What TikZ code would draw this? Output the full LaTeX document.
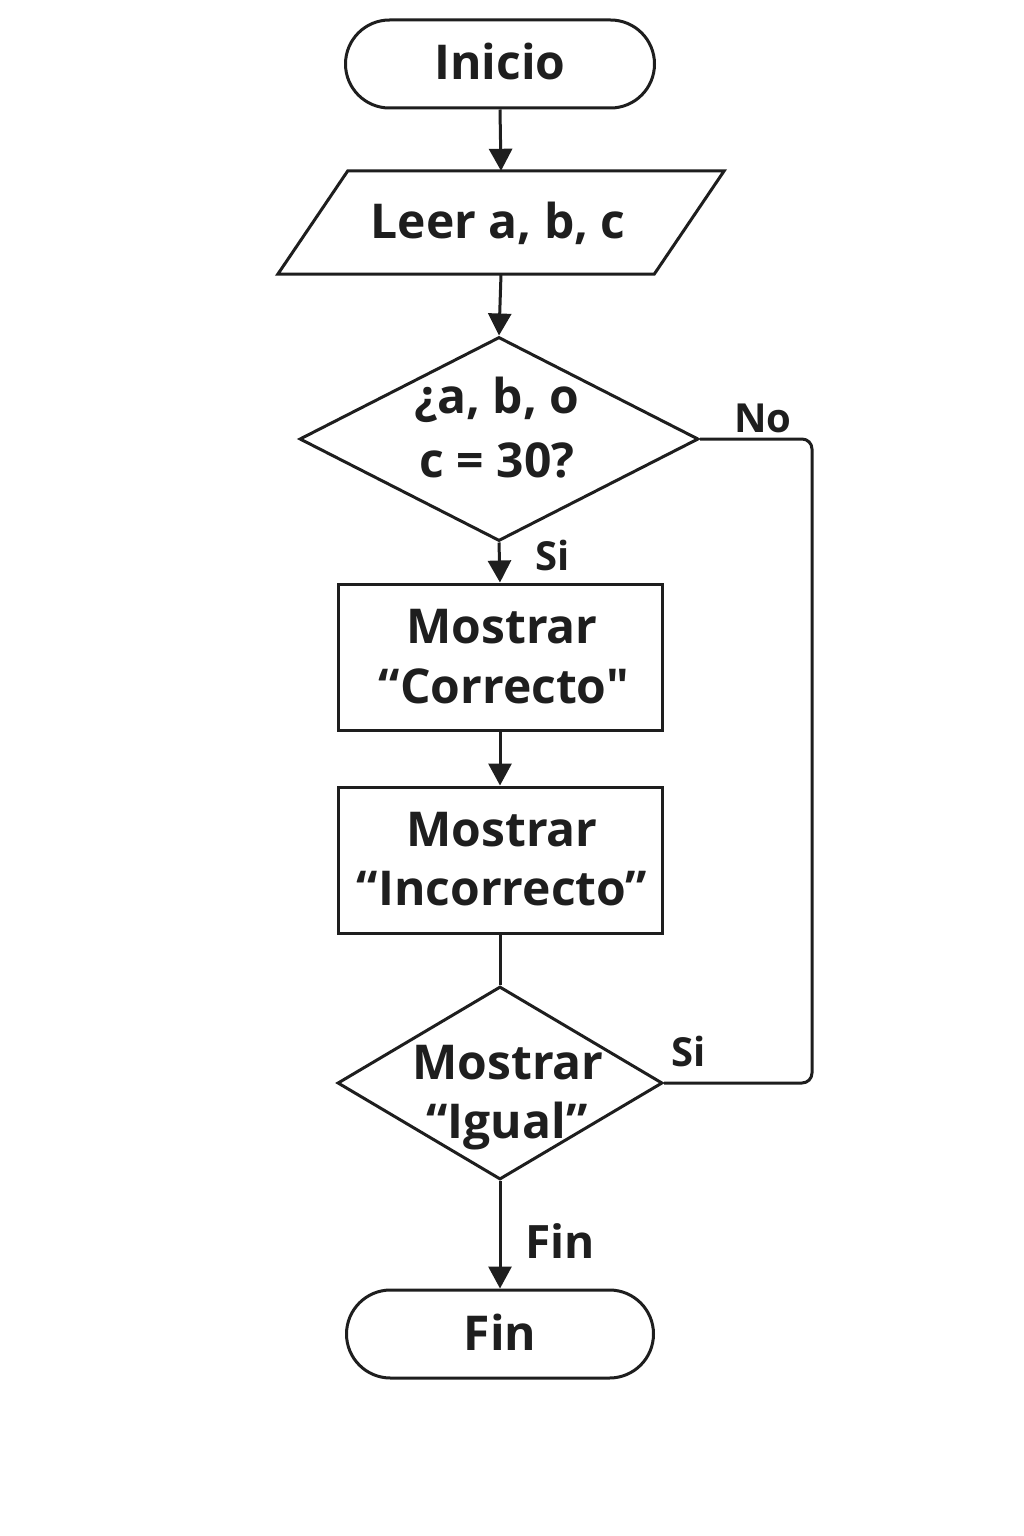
\documentclass[tikz,border=0pt]{standalone}
\usepackage{fontspec}
\setmainfont{Open Sans}[Ligatures=TeXOff]
\usetikzlibrary{arrows.meta,shapes.geometric,shapes.misc,calc}
\definecolor{ink}{HTML}{1E1E1E}
\begin{document}
\begin{tikzpicture}[x=1pt,y=-1pt,
  line/.style={draw=ink, line width=3pt},
  arr/.style={line, -{Triangle[width=23pt,length=22pt]}},
  term/.style={rounded rectangle, draw=ink, line width=3pt, minimum width=309pt, minimum height=88pt, inner sep=0pt},
  proc/.style={rectangle, draw=ink, line width=3pt, minimum width=324pt, minimum height=146pt, inner sep=0pt},
  dia/.style={diamond, draw=ink, line width=3pt, inner sep=0pt},
  txt/.style={font=\bfseries\fontsize{48}{58}\selectfont, text=ink, anchor=base, inner sep=0pt},
  lab/.style={font=\bfseries\fontsize{40}{48}\selectfont, text=ink, anchor=base, inner sep=0pt}]
\fill[white] (0,0) rectangle (1024,1536);
\useasboundingbox (0,0) rectangle (1024,1536);

% shapes
\node[term] (inicio) at (500,64) {};
\node[minimum width=446pt, minimum height=103pt, inner sep=0pt] (leer) at (501,222.5) {};
\draw[line] (leer.south west) -- ($(leer.north west)+(70,0)$) -- (leer.north east) -- ($(leer.south east)-(70,0)$) -- cycle;
\node[dia, minimum width=399pt, minimum height=204pt] (d1) at (499,439) {};
\node[proc] (r1) at (500,657) {};
\node[proc] (r2) at (500,860) {};
\node[dia, minimum width=325pt, minimum height=193pt] (d2) at (500,1083) {};
\node[term, minimum width=307pt] (fin) at (500,1334) {};

% texts
\node[txt] (tInicio) at (500,80) {Inicio};
\node[txt] (tLeer) at (498,238) {Leer a, b, c};
\node[txt] (tD1a) at (497,413) {¿a, b, o};
\node[txt] (tD1b) at (497,477) {c = 30?};
\node[txt] (tR1a) at (502,643) {Mostrar};
\node[txt] (tR1b) at (504,703) {“Correcto{\XeTeXglyph\XeTeXglyphindex "quotedbl"\relax}};
\node[txt] (tR2a) at (502,846) {Mostrar};
\node[txt] (tR2b) at (502,905) {“Incorrecto”};
\node[txt] (tD2a) at (508,1079) {Mostrar};
\node[txt] (tD2b) at (507,1138) {“Igual”};
\node[txt] (tFin) at (500,1350) {Fin};

% labels
\node[lab] (lNo) at (763,432) {No};
\node[lab] (lSi1) at (553,570) {Si};
\node[lab] (lSi2) at (689,1066) {Si};
\node[lab, font=\bfseries\fontsize{46}{56}\selectfont] (lFin) at (560,1258) {Fin};

% connectors
\draw[arr] (inicio.south) -- (leer.north);
\draw[arr] (leer.south) -- (d1.north);
\draw[arr] (d1.south) -- (r1.north);
\draw[arr] (r1.south) -- (r2.north);
\draw[line] (r2.south) -- (d2.north);
\draw[arr] (d2.south) -- (fin.north);
\draw[line, rounded corners=10pt] (d1.east) -- ++(112,0) |- (d2.east);
\end{tikzpicture}
\end{document}
